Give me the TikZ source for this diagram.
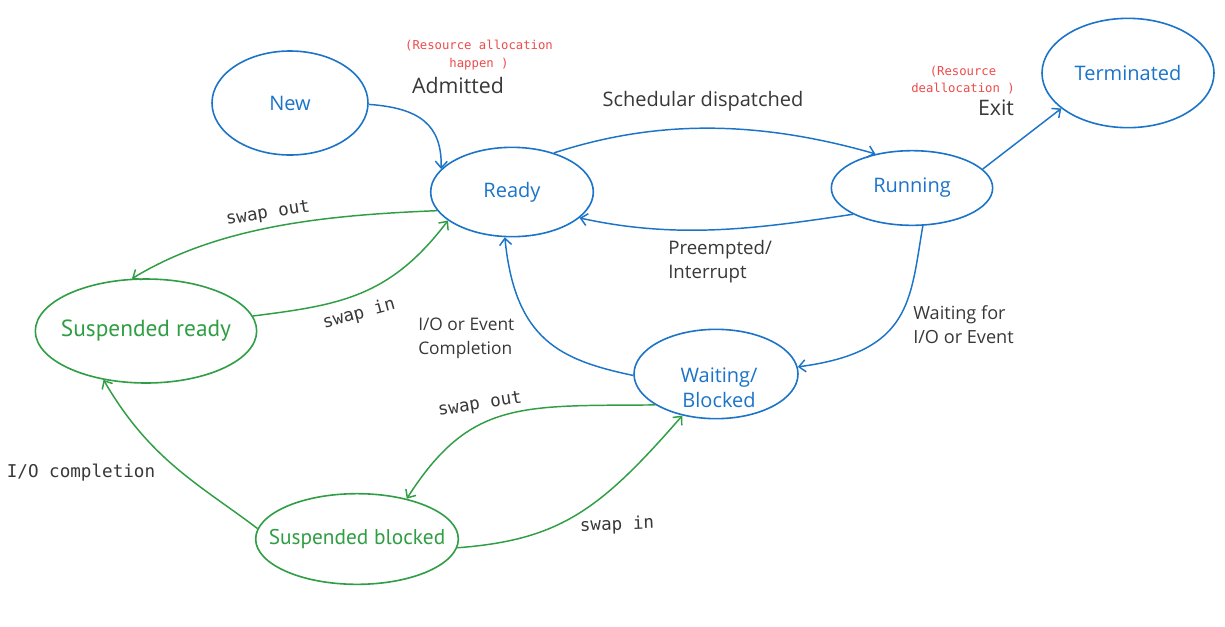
\documentclass[tikz,border=0pt]{standalone}
\usepackage{fontspec}
\setmainfont{Open Sans}
\newfontfamily\monof{DejaVu Sans Mono}
\newfontfamily\handf{PT Sans}
\usetikzlibrary{shapes.geometric,arrows.meta}
\definecolor{exblue}{HTML}{1C74C9}
\definecolor{exgreen}{HTML}{2F9E44}
\definecolor{exred}{HTML}{EE4B4B}
\definecolor{exdark}{HTML}{383838}
\tikzset{
  state/.style={ellipse,draw=exblue,line width=1.2pt,inner sep=-30pt,text=exblue,font=\fontsize{15}{18}\selectfont},
  gstate/.style={ellipse,draw=exgreen,line width=1.2pt,inner sep=-30pt,text=exgreen,font=\handf\fontsize{16}{18}\selectfont},
  bedge/.style={draw=exblue,line width=1.1pt,-{Straight Barb[length=5pt,width=9pt]}},
  gedge/.style={draw=exgreen,line width=1.1pt,-{Straight Barb[length=5pt,width=9pt]}},
  lbl/.style={text=exdark,font=\fontsize{14}{18}\selectfont,align=left,inner sep=0pt},
  slbl/.style={text=exdark,font=\fontsize{13}{18}\selectfont,align=left,inner sep=0pt},
  mlbl/.style={text=exdark,font=\monof\fontsize{13.2}{16}\selectfont,inner sep=0pt},
  rlbl/.style={text=exred,font=\monof\fontsize{9.2}{13}\selectfont,align=center,inner sep=0pt}
}
\begin{document}
\begin{tikzpicture}[x=0.75pt,y=-0.75pt]
\useasboundingbox[fill=white] (0,0) rectangle (1225,626);
% states
\node[state,minimum width=117pt,minimum height=78pt] (new) at (290,103) {New};
\node[state,minimum width=122pt,minimum height=67pt] (ready) at (512,192) {Ready};
\node[state,minimum width=121pt,minimum height=56pt] (running) at (912,188) {Running};
\node[state,minimum width=129pt,minimum height=82pt] (term) at (1128,73) {Terminated};
\node[gstate,minimum width=166pt,minimum height=78pt,font=\handf\fontsize{17.5}{18}\selectfont] (sready) at (146,331) {Suspended ready};
\node[state,minimum width=123pt,minimum height=67pt] (wait) at (716,374) {};
\node[text=exblue,align=center,inner sep=0pt,font=\fontsize{15}{19}\selectfont] (waittext) at (719,388) {Waiting/\\Blocked};
\node[gstate,minimum width=152pt,minimum height=68pt] (sblock) at (357,539) {Suspended blocked};
% blue edges
\draw[bedge] (new.-1) .. controls (420,108) and (442,125) .. (ready.162);
\draw[bedge] (ready.43) .. controls (640,125) and (740,115) .. (running.137);
\draw[bedge] (running.204) .. controls (760,228) and (680,240) .. (ready.-21);
\draw[bedge] (running.15) -- (term.208);
\draw[bedge] (running.-74) .. controls (910,300) and (912,352) .. (wait.5);
\draw[bedge] (wait.181) .. controls (560,360) and (515,340) .. (ready.261);
% green edges
\draw[gedge] (ready.194) .. controls (330,215) and (220,225) .. (sready.105);
\draw[gedge] (sready.8) .. controls (340,305) and (390,297) .. (ready.204);
\draw[gedge] (wait.207) .. controls (520,406) and (470,400) .. (sblock.39);
\draw[gedge] (sblock.-5) .. controls (560,540) and (600,510) .. (wait.231);
\draw[gedge] (sblock.174) .. controls (200,485) and (150,460) .. (sready.229);
% labels
\node[rlbl] (resalloc) at (479,55) {(Resource allocation\\happen )};
\node[lbl,font=\fontsize{16}{18}\selectfont] (admitted) at (458,85) {Admitted};
\node[lbl,font=\fontsize{15}{18}\selectfont] (sched) at (703,101) {Schedular dispatched};
\node[rlbl] (resdealloc) at (963,80) {(Resource\\deallocation )};
\node[lbl,font=\fontsize{16}{18}\selectfont] (exit) at (996,108) {Exit};
\node[lbl,anchor=west] (preempt) at (668,262) {Preempted/\\Interrupt};
\node[lbl,font=\fontsize{13.6}{18}\selectfont,anchor=west] (waitfor) at (913,325) {Waiting for\\I/O or Event};
\node[slbl,anchor=west] (iocomp) at (418,338) {I/O or Event\\Completion};
\node[mlbl,rotate=9] (so1) at (268,214) {swap out};
\node[mlbl,rotate=15] (si1) at (359,314) {swap in};
\node[mlbl,rotate=9] (so2) at (480,405) {swap out};
\node[mlbl,rotate=2] (si2) at (617,525) {swap in};
\node[mlbl] (iocompl) at (81,473) {I/O completion};
\end{tikzpicture}
\end{document}
